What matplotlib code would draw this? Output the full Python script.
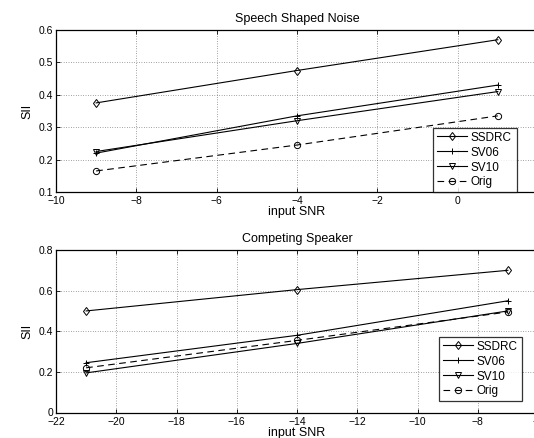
import numpy as np
import matplotlib
matplotlib.use("Agg")
import matplotlib.pyplot as plt

plt.rcParams['font.family'] = ['Liberation Sans', 'DejaVu Sans']

# Speech shaped noise
snr_ssn = [-9, -4, 1]
ssn_ssdrc = [0.375, 0.475, 0.570]
ssn_sv06 = [0.220, 0.335, 0.430]
ssn_sv10 = [0.225, 0.320, 0.410]
ssn_orig = [0.165, 0.245, 0.335]

# Competing speaker
snr_cs = [-21, -14, -7]
cs_ssdrc = [0.500, 0.605, 0.700]
cs_sv06 = [0.245, 0.380, 0.550]
cs_sv10 = [0.195, 0.340, 0.500]
cs_orig = [0.220, 0.355, 0.495]

labels = ['SSDRC', 'SV06', 'SV10', 'Orig']
styles = [('-', 'd'), ('-', '+'), ('-', 'v'), ('--', 'o')]

W, H = 534, 438
fig = plt.figure(figsize=(W / 100, H / 100), dpi=100)


def panel(rect, x, series, title, xlim, ylim, xticks, yticks, leg_rect):
    ax = fig.add_axes(rect)
    for (ls, mk), y, lab in zip(styles, series, labels):
        ax.plot(x, y, color='k', ls=ls, lw=0.8, marker=mk, ms=4.5,
                mfc='none', mec='k', mew=0.7, label=lab,
                dashes=(6, 4) if ls == '--' else (None, None))
    ax.set_xlim(*xlim)
    ax.set_ylim(*ylim)
    ax.set_xticks(xticks)
    ax.set_yticks(yticks)
    ax.set_xticklabels([('%g' % t).replace('-', '\u2212') for t in xticks])
    ax.set_yticklabels(['%g' % t for t in yticks])
    ax.tick_params(direction='in', length=3, width=0.6, labelsize=7.5,
                   top=True, right=True, pad=2)
    ax.tick_params(axis='x', pad=3)
    ax.grid(True, ls=(0, (1, 2.5)), color='k', lw=0.5, alpha=0.7)
    for s in ax.spines.values():
        s.set_linewidth(0.9)
    ax.set_title(title, fontsize=9, pad=6)
    ax.set_xlabel('input SNR', fontsize=9, labelpad=0)
    ax.set_ylabel('SII', fontsize=9, labelpad=4)
    leg = ax.legend(loc='lower left', bbox_to_anchor=leg_rect,
                    bbox_transform=fig.transFigure, fontsize=8.5,
                    frameon=True, fancybox=False, edgecolor='k',
                    handlelength=2.6, handletextpad=0.3, borderpad=0.3,
                    labelspacing=0.25, borderaxespad=0, mode='expand')
    leg.get_frame().set_linewidth(0.9)
    return ax


def fr(x0, y0, x1, y1):
    return [x0 / W, 1 - y1 / H, (x1 - x0) / W, (y1 - y0) / H]


panel(fr(56, 30, 538, 192), snr_ssn, [ssn_ssdrc, ssn_sv06, ssn_sv10, ssn_orig],
      'Speech Shaped Noise', (-10, 2), (0.1, 0.6), np.arange(-10, 3, 2),
      np.arange(0.1, 0.61, 0.1), fr(433, 125, 517, 192))
panel(fr(56, 250, 538, 412.5), snr_cs, [cs_ssdrc, cs_sv06, cs_sv10, cs_orig],
      'Competing Speaker', (-22, -6), (0, 0.8), np.arange(-22, -5, 2),
      np.arange(0, 0.81, 0.2), fr(439, 335, 522, 401))

fig.savefig('out.png', dpi=100)
